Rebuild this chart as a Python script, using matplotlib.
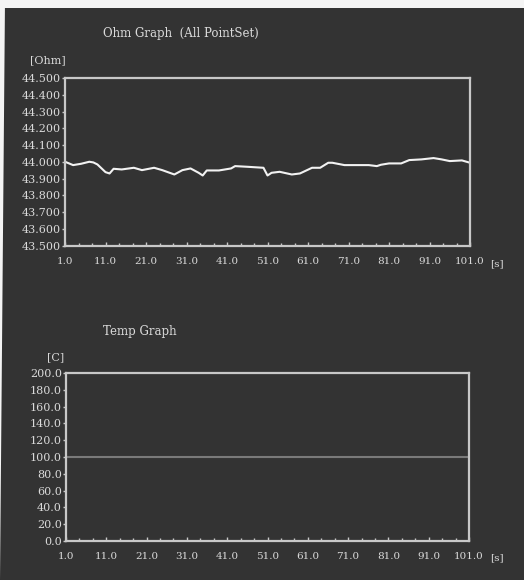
import matplotlib
matplotlib.use("Agg")
import matplotlib.pyplot as plt
from matplotlib.ticker import FixedLocator, AutoMinorLocator
from matplotlib.patches import Rectangle, Polygon

# ---- data -------------------------------------------------------------
time_s = [1, 2, 3, 5, 7, 8, 9, 11, 12, 13, 15, 18, 20, 23, 25, 28, 30, 32,
          34, 35, 36, 39, 42, 43, 46, 50, 51, 52, 54, 57, 59, 62, 64, 66,
          67, 70, 72, 76, 78, 79, 81, 84, 86, 89, 92, 94, 96, 99, 101]
ohm_values = [44.000, 43.990, 43.980, 43.988, 44.000, 43.996, 43.984,
              43.938, 43.930, 43.958, 43.954, 43.964, 43.950, 43.964,
              43.950, 43.924, 43.950, 43.960, 43.934, 43.918, 43.948,
              43.948, 43.960, 43.974, 43.970, 43.964, 43.918, 43.934,
              43.940, 43.924, 43.930, 43.964, 43.964, 43.994, 43.994,
              43.980, 43.980, 43.980, 43.974, 43.982, 43.990, 43.990,
              44.010, 44.014, 44.022, 44.014, 44.004, 44.008, 43.994]
temp_values = [100.0] * len(time_s)

x_ticks = [1.0, 11.0, 21.0, 31.0, 41.0, 51.0, 61.0, 71.0, 81.0, 91.0, 101.0]
ohm_ticks = [43.5, 43.6, 43.7, 43.8, 43.9, 44.0, 44.1, 44.2, 44.3, 44.4, 44.5]
temp_ticks = [0, 20, 40, 60, 80, 100, 120, 140, 160, 180, 200]

# ---- style ------------------------------------------------------------
BG = "#333333"
FRAME = "#c8c8c8"
TEXT = "#dadada"
FONT = "DejaVu Serif"

W, H = 524, 580
fig = plt.figure(figsize=(W / 100, H / 100), dpi=100, facecolor=BG)

# light screen margin: band across the top, narrowing wedge down the left side
fig.patches.append(Rectangle((0, 1 - 8 / H), 1, 8 / H, transform=fig.transFigure,
                             facecolor="#f4f4f4", edgecolor="none", zorder=-1))
fig.patches.append(Polygon([(0, 1), (5 / W, 1), (0, 0)], closed=True,
                           transform=fig.transFigure, facecolor="#f4f4f4",
                           edgecolor="none", zorder=-1))


def px_axes(left, top, right, bottom):
    return fig.add_axes([left / W, 1 - bottom / H, (right - left) / W, (bottom - top) / H])


def style_axes(ax, yticks, yfmt):
    ax.set_facecolor(BG)
    for sp in ax.spines.values():
        sp.set_color(FRAME)
        sp.set_linewidth(1.6)
    ax.set_xlim(1, 101)
    ax.xaxis.set_major_locator(FixedLocator(x_ticks))
    ax.set_xticklabels([f"{v:.1f}" for v in x_ticks])
    ax.xaxis.set_minor_locator(AutoMinorLocator(3))
    ax.yaxis.set_major_locator(FixedLocator(yticks))
    ax.set_yticklabels([yfmt.format(v) for v in yticks])
    ax.tick_params(axis="x", which="major", direction="in", length=3, width=1,
                   colors=FRAME, labelcolor=TEXT, labelsize=7.5, pad=8)
    ax.tick_params(axis="x", which="minor", direction="in", length=2, width=1,
                   colors=FRAME)
    ax.tick_params(axis="y", which="major", direction="out", length=2, width=1,
                   colors=FRAME, labelcolor=TEXT, labelsize=8, pad=1)
    for lab in ax.get_xticklabels() + ax.get_yticklabels():
        lab.set_family(FONT)


# ---- resistance graph --------------------------------------------------
ax1 = px_axes(65, 78, 470, 245.5)
style_axes(ax1, ohm_ticks, "{:.3f}")
ax1.set_ylim(43.5, 44.5)
ax1.plot(time_s, ohm_values, color="#f2f2f2", linewidth=1.5)

fig.text(103 / W, 1 - 34 / H, "Ohm Graph  (All PointSet)", color=TEXT,
         fontsize=8.5, family=FONT, ha="left", va="center")
fig.text(48 / W, 1 - 60 / H, "[Ohm]", color=TEXT, fontsize=8, family=FONT,
         ha="center", va="center")
fig.text(497 / W, 1 - 264 / H, "[s]", color=TEXT, fontsize=7.5, family=FONT,
         ha="center", va="center")

# ---- temperature graph -------------------------------------------------
ax2 = px_axes(66, 373, 469, 541)
style_axes(ax2, temp_ticks, "{:.1f}")
ax2.set_ylim(0, 200)
ax2.plot(time_s, temp_values, color="#7a7a7a", linewidth=1.5)

fig.text(103 / W, 1 - 331 / H, "Temp Graph", color=TEXT, fontsize=8.5,
         family=FONT, ha="left", va="center")
fig.text(56 / W, 1 - 357 / H, "[C]", color=TEXT, fontsize=8, family=FONT,
         ha="center", va="center")
fig.text(497 / W, 1 - 558 / H, "[s]", color=TEXT, fontsize=7.5, family=FONT,
         ha="center", va="center")

fig.savefig("out.png", dpi=100, facecolor=BG)
